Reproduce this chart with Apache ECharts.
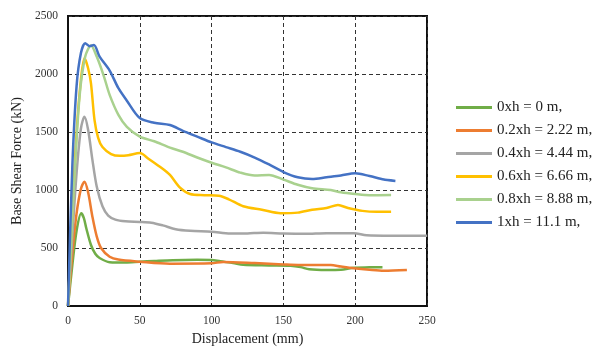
<!DOCTYPE html>
<html>
<head>
<meta charset="utf-8">
<script src="https://cdn.jsdelivr.net/npm/echarts@6/dist/echarts.min.js"></script>
<style>
html, body { margin: 0; padding: 0; background: #fff; }
#chart { width: 603px; height: 351px; }
</style>
</head>
<body>
<div id="chart"></div>
<script>
// 图例名称
var names = ['0xh = 0 m,', '0.2xh = 2.22 m,', '0.4xh = 4.44 m,', '0.6xh = 6.66 m,', '0.8xh = 8.88 m,', '1xh = 11.1 m,']
var colors = ['#70AD47', '#ED7D31', '#A5A5A5', '#FFC000', '#A9D18E', '#4472C4']

// displacement (mm) / base shear (kN) per curve
var x0 = [0, 3, 6, 9.2, 11, 12.7, 16, 19, 22, 29, 40, 50, 60, 73, 90, 100, 106, 115, 122, 140, 155, 162, 168, 180, 190, 199, 210, 219]
var y0 = [0, 350, 650, 799, 760, 672, 526, 450, 414, 378, 375, 382, 388, 395, 398, 397, 385, 370, 355, 350, 347, 335, 316, 310, 312, 330, 333, 335]

var x02 = [0, 3, 6, 9, 11.5, 14, 17, 20, 23, 29, 35, 50, 71, 100, 108, 130, 150, 162, 183, 190, 199, 210, 220, 236]
var y02 = [0, 450, 800, 1010, 1072, 980, 770, 600, 500, 425, 400, 382, 365, 368, 380, 370, 358, 353, 353, 340, 325, 312, 304, 310]

var x04 = [0, 3, 6, 9, 11.5, 14, 17, 20, 24, 28, 33, 40, 50, 58, 66, 75, 85, 100, 113, 125, 136, 150, 165, 180, 199, 208, 225, 250]
var y04 = [0, 600, 1150, 1530, 1632, 1520, 1260, 1030, 860, 780, 745, 730, 725, 718, 695, 662, 648, 640, 624, 626, 632, 625, 622, 628, 627, 609, 605, 606]

var x06 = [0, 3, 6, 9, 11.5, 14, 16, 18.5, 21, 24, 30, 36, 42, 50, 56, 64, 71, 78, 85, 95, 105, 112, 122, 135, 148, 160, 170, 180, 188, 195, 205, 215, 225]
var y06 = [0, 800, 1500, 1950, 2135, 2050, 1920, 1600, 1450, 1370, 1310, 1295, 1300, 1318, 1270, 1200, 1130, 1020, 965, 955, 950, 920, 860, 830, 800, 805, 830, 845, 870, 845, 820, 812, 813]

var x08 = [0, 4, 8, 12, 16, 20, 25, 29, 35, 41, 50, 60, 71, 80, 90, 100, 110, 120, 130, 140, 150, 160, 170, 183, 190, 200, 210, 225]
var y08 = [0, 1000, 1800, 2150, 2245, 2150, 1980, 1820, 1650, 1545, 1460, 1420, 1365, 1330, 1280, 1235, 1195, 1150, 1125, 1130, 1090, 1045, 1015, 1000, 980, 965, 955, 957]

var x1 = [0, 3, 6, 9, 12, 15, 18, 22, 29, 35, 41, 50, 60, 71, 80, 90, 100, 110, 120, 130, 140, 150, 160, 170, 180, 190, 200, 210, 220, 228]
var y1 = [0, 1200, 1900, 2180, 2265, 2240, 2250, 2150, 2030, 1880, 1770, 1620, 1580, 1560, 1510, 1460, 1410, 1370, 1330, 1280, 1220, 1155, 1110, 1095, 1110, 1125, 1145, 1120, 1090, 1078]

var xs = [x0, x02, x04, x06, x08, x1]
var ys = [y0, y02, y04, y06, y08, y1]

var font = 'Liberation Serif'

var series = names.map(function (n, i) {
  return {
    name: n,
    type: 'line',
    smooth: 0.3,
    symbol: 'none',
    lineStyle: { width: 2.5, color: colors[i] },
    itemStyle: { color: colors[i] },
    data: xs[i].map(function (x, k) { return [x, ys[i][k]] })
  }
})

var option = {
  animation: false,
  backgroundColor: '#fff',
  grid: { left: 68, right: 176, top: 16, bottom: 45, show: true, borderColor: '#111', borderWidth: 2 },
  legend: {
    orient: 'vertical',
    left: 451,
    top: 95,
    icon: 'rect',
    itemWidth: 36,
    itemHeight: 3,
    itemGap: 8,
    textStyle: { fontFamily: font, fontSize: 15, color: '#222' },
    data: names
  },
  xAxis: {
    type: 'value',
    min: 0,
    max: 250,
    interval: 50,
    name: 'Displacement (mm)',
    nameLocation: 'middle',
    nameGap: 23,
    nameTextStyle: { fontFamily: font, fontSize: 14, color: '#222' },
    axisLine: { lineStyle: { color: '#111', width: 2 } },
    axisTick: { show: false },
    axisLabel: { fontFamily: font, fontSize: 11.5, color: '#333', margin: 9 },
    splitLine: { lineStyle: { color: '#333', type: [4, 3], width: 1 } }
  },
  yAxis: {
    type: 'value',
    min: 0,
    max: 2500,
    interval: 500,
    name: 'Base Shear Force (kN)',
    nameLocation: 'middle',
    nameGap: 41,
    nameTextStyle: { fontFamily: font, fontSize: 14, color: '#222' },
    axisLine: { show: true, lineStyle: { color: '#111', width: 2 } },
    axisTick: { show: false },
    axisLabel: { fontFamily: font, fontSize: 11.5, color: '#333', margin: 10, formatter: function (v) { return String(v) } },
    splitLine: { lineStyle: { color: '#333', type: [4, 3], width: 1 } }
  },
  series: series
}

var myChart = echarts.init(document.getElementById('chart'))
myChart.setOption(option)
</script>
</body>
</html>
